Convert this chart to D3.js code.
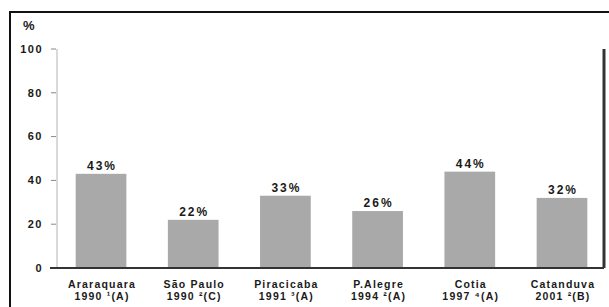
<!DOCTYPE html>
<html>
<head>
<meta charset="utf-8">
<script src="https://cdn.jsdelivr.net/npm/d3@7"></script>
<style>
  body { margin: 0; background: #fff; }
  svg { display: block; }
  text { font-family: "Liberation Sans", Arial, sans-serif; font-weight: bold; fill: #1a1a1a; }
</style>
</head>
<body>
<div id="chart"></div>
<script>
// data
const cities = ["Araraquara", "São Paulo", "Piracicaba", "P.Alegre", "Cotia", "Catanduva"];
const years = ["1990 \u00b9(A)", "1990 \u00b2(C)", "1991 \u00b3(A)", "1994 \u00b2(A)", "1997 \u2074(A)", "2001 \u00b2(B)"];
const values = [43, 22, 33, 26, 44, 32];
const yTicks = [0, 20, 40, 60, 80, 100];

const W = 609, H = 307;
const svg = d3.select("#chart").append("svg")
    .attr("width", W).attr("height", H);

// frame (top + left only)
svg.append("path")
    .attr("d", "M10,307 V12 H609")
    .attr("fill", "none").attr("stroke", "#111").attr("stroke-width", 2);

const x = d3.scaleBand().domain(cities).range([60, 603])
    .paddingInner(0.45).paddingOuter(0.17);
const y = d3.scaleLinear().domain([0, 100]).range([268, 49]);

// y axis line
svg.append("line")
    .attr("x1", 57).attr("x2", 57).attr("y1", y(100)).attr("y2", y(0))
    .attr("stroke", "#ccc").attr("stroke-width", 1.5);

// right edge of plot
svg.append("line")
    .attr("x1", 604).attr("x2", 604).attr("y1", y(100)).attr("y2", y(0))
    .attr("stroke", "#333").attr("stroke-width", 3);

const yAxis = svg.append("g").selectAll("g").data(yTicks).enter().append("g");
yAxis.append("line")
    .attr("x1", 51).attr("x2", 56)
    .attr("y1", d => y(d)).attr("y2", d => y(d))
    .attr("stroke", "#888").attr("stroke-width", 1);
yAxis.append("text")
    .attr("x", 43).attr("y", d => y(d))
    .attr("dy", "0.35em")
    .attr("text-anchor", "end")
    .attr("font-size", 11)
    .attr("letter-spacing", 1.5)
    .text(d => d);

svg.append("text")
    .attr("x", 23).attr("y", 30)
    .attr("font-size", 13)
    .attr("letter-spacing", 1)
    .text("%");

// bars
svg.append("g").selectAll("rect").data(values).enter().append("rect")
    .attr("x", (d, i) => x(cities[i]))
    .attr("width", x.bandwidth())
    .attr("y", d => y(d))
    .attr("height", d => y(0) - y(d))
    .attr("fill", "#a9a9a9");

// value labels
svg.append("g").selectAll("text").data(values).enter().append("text")
    .attr("x", (d, i) => x(cities[i]) + x.bandwidth() / 2 + 1)
    .attr("y", d => y(d) - 4)
    .attr("text-anchor", "middle")
    .attr("font-size", 12)
    .attr("letter-spacing", 2)
    .text(d => d + "%");

// baseline
svg.append("line")
    .attr("x1", 50).attr("x2", 604).attr("y1", y(0)).attr("y2", y(0))
    .attr("stroke", "#333").attr("stroke-width", 2);

// category labels
const lab = svg.append("g").selectAll("text").data(cities).enter().append("text")
    .attr("text-anchor", "middle")
    .attr("font-size", 10.5)
    .attr("letter-spacing", 1.2);
lab.append("tspan").attr("x", d => x(d) + x.bandwidth() / 2 + 1).attr("y", 288).text(d => d);
lab.append("tspan").attr("x", d => x(d) + x.bandwidth() / 2 + 1).attr("y", 300).text((d, i) => years[i]);
</script>
</body>
</html>
